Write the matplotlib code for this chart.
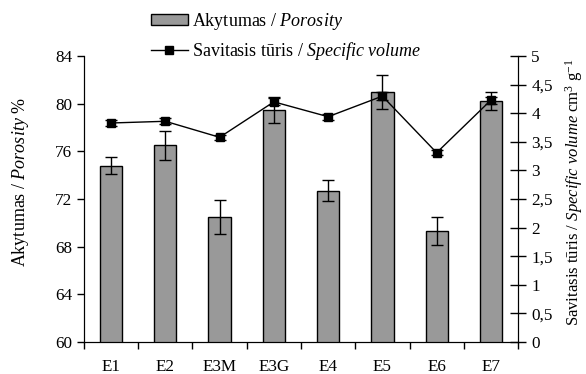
import matplotlib
matplotlib.use("Agg")
import matplotlib.pyplot as plt
from matplotlib.lines import Line2D
import numpy as np

categories = ["E1", "E2", "E3M", "E3G", "E4", "E5", "E6", "E7"]
porosity = [74.8, 76.5, 70.5, 79.5, 72.7, 81.0, 69.3, 80.2]
porosity_err = [0.7, 1.25, 1.4, 1.1, 0.9, 1.4, 1.2, 0.75]
spec_volume = [3.83, 3.86, 3.58, 4.20, 3.94, 4.30, 3.31, 4.23]
spec_volume_err = [0.05, 0.05, 0.04, 0.06, 0.05, 0.07, 0.04, 0.06]
left_ticks = [60, 64, 68, 72, 76, 80, 84]
right_ticks = [0, 0.5, 1, 1.5, 2, 2.5, 3, 3.5, 4, 4.5, 5]
right_labels = ["0", "0,5", "1", "1,5", "2", "2,5", "3", "3,5", "4", "4,5", "5"]

plt.rcParams['font.family'] = ['Liberation Serif', 'DejaVu Serif']
plt.rcParams['mathtext.fontset'] = 'custom'
plt.rcParams['mathtext.rm'] = 'Liberation Serif'
plt.rcParams['mathtext.it'] = 'Liberation Serif:italic'
plt.rcParams['font.size'] = 13
tick_size = 12.3

fig = plt.figure(figsize=(5.86, 3.74), dpi=100)
ax = fig.add_axes([0.1433, 0.0856, 0.7407, 0.7644])
x = np.arange(len(categories))

ax.bar(x, porosity, width=0.41, color="#999999", edgecolor="black",
       linewidth=1.0, zorder=2)
ax.errorbar(x, porosity, yerr=porosity_err, fmt="none", ecolor="black",
            elinewidth=1.0, capsize=4, capthick=1.0, zorder=3)
ax.set_xlim(-0.5, len(categories) - 0.5)
ax.set_ylim(60, 84)
ax.set_yticks(left_ticks)
ax.set_xticks(np.arange(len(categories) + 1) - 0.5)
ax.set_xticklabels([])
ax.set_xticks(x, minor=True)
ax.set_xticklabels(categories, minor=True)
ax.tick_params(axis="x", which="minor", length=0, pad=12, labelsize=tick_size)
ax.tick_params(axis="x", which="major", direction="out", length=5, width=1)
ax.tick_params(axis="y", direction="out", length=5, width=1, labelsize=tick_size)
ax.spines["top"].set_visible(False)
ax.set_ylabel(r"Akytumas / $\it{Porosity}$ %")
ax.yaxis.set_label_coords(-0.122, 0.56)

ax2 = ax.twinx()
ax2.errorbar(x, spec_volume, yerr=spec_volume_err, color="black", marker="s",
             markersize=6, linewidth=1.0, elinewidth=1.0, capsize=4,
             capthick=1.0, zorder=4)
ax2.set_ylim(0, 5)
ax2.set_yticks(right_ticks)
ax2.set_yticklabels(right_labels)
ax2.tick_params(axis="y", direction="inout", length=11, width=1, labelsize=tick_size, pad=4)
ax2.spines["top"].set_visible(False)
ax2.set_ylabel(r"Savitasis tūris / $\it{Specific\ volume}$ cm$^{3}$ g$^{-1}$", fontsize=12)
ax2.yaxis.set_label_coords(1.105, 0.525)

h_bar = plt.Rectangle((0, 0), 1, 1, facecolor="#999999", edgecolor="black", linewidth=1.0)
h_line = Line2D([], [], color="black", marker="s", markersize=6, linewidth=1.0)
fig.legend([h_bar, h_line],
           [r"Akytumas / $\it{Porosity}$", r"Savitasis tūris / $\it{Specific\ volume}$"],
           loc="upper left", bbox_to_anchor=(0.239, 1.0),
           frameon=False, handlelength=2.05, handleheight=0.6, labelspacing=0.45,
           handletextpad=0.25, borderaxespad=0.2)

fig.savefig("out.png", dpi=100)
